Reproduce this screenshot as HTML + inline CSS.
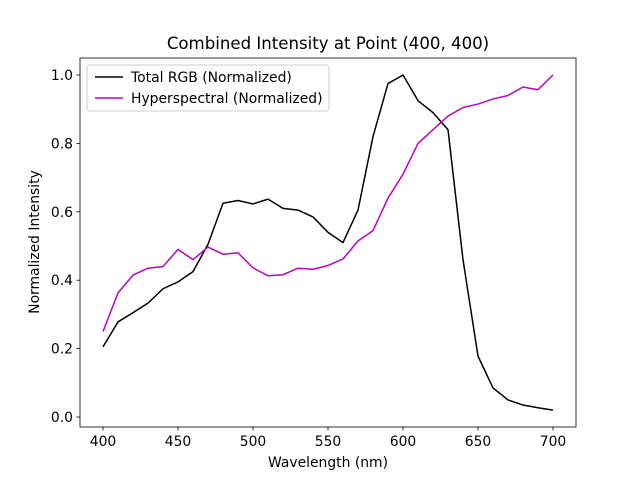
<!DOCTYPE html>
<html><head><meta charset="utf-8"><style>
body{margin:0;background:#fff;}
svg{display:block;font-family:"DejaVu Sans","Liberation Sans",sans-serif;}
</style></head><body>
<svg id="chart" width="640" height="480" viewBox="0 0 640 480">
<rect width="640" height="480" fill="#fff"/>
<text x="328" y="49" text-anchor="middle" font-size="16.6">Combined Intensity at Point (400, 400)</text>
<g id="xt"></g><g id="yt"></g>
<g id="lines"></g>
<rect x="80" y="58" width="496" height="369" fill="none" stroke="#000" stroke-width="0.8"/>
<text x="328" y="467" text-anchor="middle" font-size="13.9">Wavelength (nm)</text>
<text transform="translate(39,242) rotate(-90)" text-anchor="middle" font-size="13.9">Normalized Intensity</text>
<g>
<rect x="87" y="65" width="242" height="46" rx="3" fill="#fff" fill-opacity="0.8" stroke="#ccc"/>
<line x1="95" y1="77" x2="123" y2="77" stroke="#000" stroke-width="1.5"/>
<text x="131" y="82" font-size="13.9">Total RGB (Normalized)</text>
<line x1="95" y1="98" x2="123" y2="98" stroke="#bf00bf" stroke-width="1.5"/>
<text x="131" y="103" font-size="13.9">Hyperspectral (Normalized)</text>
</g>
</svg>
<script>
const wavelengths=[400,410,420,430,440,450,460,470,480,490,500,510,520,530,540,550,560,570,580,590,600,610,620,630,640,650,660,670,680,690,700];
const rgbValues=[0.205,0.278,0.305,0.333,0.375,0.395,0.425,0.505,0.625,0.633,0.623,0.637,0.61,0.605,0.585,0.54,0.51,0.605,0.82,0.975,1.0,0.925,0.89,0.84,0.46,0.178,0.085,0.05,0.035,0.027,0.02];
const hyperValues=[0.25,0.363,0.415,0.435,0.44,0.49,0.46,0.497,0.476,0.48,0.436,0.413,0.416,0.435,0.432,0.443,0.462,0.515,0.545,0.64,0.71,0.8,0.84,0.88,0.905,0.915,0.93,0.94,0.965,0.957,1.0];
const xTicks=[400,450,500,550,600,650,700];
const yTicks=[0.0,0.2,0.4,0.6,0.8,1.0];
const NS="http://www.w3.org/2000/svg";
const xs=v=>103+(v-400)*1.5;
const ys=v=>417-v*342;
function mk(t,a,p){const e=document.createElementNS(NS,t);for(const k in a)e.setAttribute(k,a[k]);p.appendChild(e);return e;}
const xt=document.getElementById('xt'),yt=document.getElementById('yt'),lg=document.getElementById('lines');
xTicks.forEach(v=>{
 const l=mk('line',{x1:xs(v),x2:xs(v),y1:427,y2:430.5,stroke:'#000','stroke-width':0.8},xt);
 
 
 const t=mk('text',{x:xs(v),y:446,'text-anchor':'middle','font-size':13.9},xt);t.textContent=v;
 
 
});
yTicks.forEach(v=>{
 const l=mk('line',{x1:76.5,x2:80,y1:ys(v),y2:ys(v),stroke:'#000','stroke-width':0.8},yt);
 
 
 const t=mk('text',{x:73,y:ys(v)+5,'text-anchor':'end','font-size':13.9},yt);t.textContent=v.toFixed(1);
 
 
});
function line(vals,col,name){
 const p=mk('polyline',{points:vals.map((v,i)=>xs(wavelengths[i])+','+ys(v)).join(' '),fill:'none',stroke:col,'stroke-width':1.5,'stroke-linejoin':'round'},lg);
 
 
}
line(rgbValues,'#000','rgb-line');
line(hyperValues,'#bf00bf','hyperspectral-line');
</script>
</body></html>
